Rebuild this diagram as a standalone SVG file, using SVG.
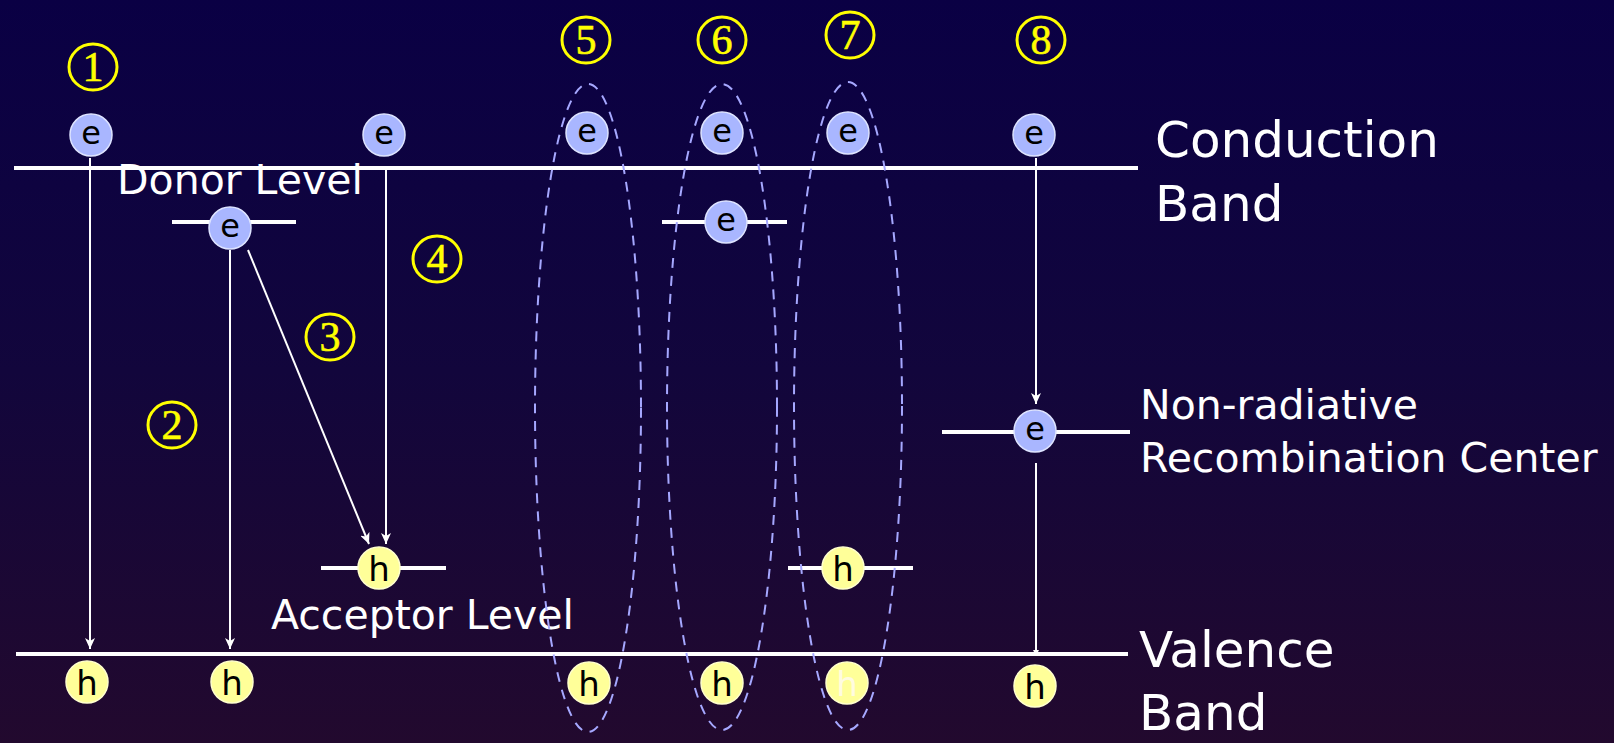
<svg xmlns="http://www.w3.org/2000/svg" width="1614" height="743" viewBox="0 0 1614 743">
  <defs>
    <linearGradient id="bg" x1="0" y1="0" x2="0" y2="1">
      <stop offset="0" stop-color="#0a0044"/>
      <stop offset="0.5" stop-color="#12063c"/>
      <stop offset="1" stop-color="#22092e"/>
    </linearGradient>
    <marker id="arrow" markerUnits="userSpaceOnUse" markerWidth="12" markerHeight="10" refX="11" refY="5" orient="auto">
      <path d="M0,0 L11,5 L0,10 L3,5 z" fill="#ffffff"/>
    </marker>
    <marker id="dot" markerUnits="userSpaceOnUse" markerWidth="8" markerHeight="8" refX="6" refY="4" orient="auto">
      <path d="M0,1 L6,4 L0,7 z" fill="#ffffff"/>
    </marker>
  </defs>
  <style>
    .band { stroke: #ffffff; stroke-width: 4; fill: none; }
    .level { stroke: #ffffff; stroke-width: 4; fill: none; }
    .conn { stroke: #ffffff; stroke-width: 2; fill: none; }
    .pair { stroke: #a6a8ff; stroke-width: 2; fill: none; stroke-dasharray: 10 8; }
    .elec circle { fill: #a9b6ff; stroke: #dde3ff; stroke-width: 1.5; }
    .elec text { font-family: "DejaVu Sans", sans-serif; font-size: 32px; fill: #000000; text-anchor: middle; }
    .hole circle { fill: #ffff99; stroke: #ffffcc; stroke-width: 1.5; }
    .hole text { font-family: "DejaVu Sans", sans-serif; font-size: 34px; fill: #000000; text-anchor: middle; }
    .num ellipse { fill: none; stroke: #ffff00; stroke-width: 3; }
    .num text { font-family: "Liberation Serif", serif; font-size: 42px; fill: #ffff00; stroke: #ffff00; stroke-width: 0.6; text-anchor: middle; }
    .label { font-family: "DejaVu Sans", sans-serif; fill: #ffffff; }
    .big { font-size: 50px; }
    .mid { font-size: 41px; }
  </style>

  <rect x="0" y="0" width="1614" height="743" fill="url(#bg)"/>

  <!-- energy bands and localized levels -->
  <g id="bands">
    <line class="band" x1="14" y1="168" x2="1138" y2="168"/>
    <line class="band" x1="16" y1="654" x2="1128" y2="654"/>
  </g>
  <g id="levels">
    <line class="level" x1="172" y1="222" x2="296" y2="222"/>
    <line class="level" x1="662" y1="222" x2="787" y2="222"/>
    <line class="level" x1="321" y1="568" x2="446" y2="568"/>
    <line class="level" x1="788" y1="568" x2="913" y2="568"/>
    <line class="level" x1="942" y1="432" x2="1130" y2="432"/>
  </g>

  <!-- band labels -->
  <g id="labels">
    <text class="label big" x="1155" y="157">Conduction</text>
    <text class="label big" x="1155" y="221">Band</text>
    <text class="label big" x="1139" y="667">Valence</text>
    <text class="label big" x="1139" y="730">Band</text>
    <text class="label mid" x="117" y="194">Donor Level</text>
    <text class="label mid" x="271" y="629">Acceptor Level</text>
    <text class="label mid" x="1140" y="419">Non-radiative</text>
    <text class="label mid" x="1140" y="472">Recombination Center</text>
  </g>

  <!-- recombination transitions -->
  <g id="connectors">
    <line class="conn" x1="90" y1="158" x2="90" y2="649" marker-end="url(#arrow)"/>
    <line class="conn" x1="230" y1="250" x2="230" y2="649" marker-end="url(#arrow)"/>
    <line class="conn" x1="248" y1="250" x2="369" y2="544" marker-end="url(#arrow)"/>
    <line class="conn" x1="386" y1="168" x2="386" y2="544" marker-end="url(#arrow)"/>
    <line class="conn" x1="1036" y1="158" x2="1036" y2="404" marker-end="url(#arrow)"/>
    <line class="conn" x1="1036" y1="463" x2="1036" y2="656" marker-end="url(#dot)"/>
  </g>

  <!-- electron-hole pairs (excitons) -->
  <g id="pairs">
    <ellipse id="pair5" class="pair" cx="588" cy="408" rx="53" ry="324"/>
    <ellipse id="pair6" class="pair" cx="722" cy="407" rx="55" ry="323"/>
    <ellipse id="pair7" class="pair" cx="848" cy="406" rx="54" ry="324"/>
  </g>

  <!-- electrons -->
  <g id="e1" class="elec"><circle cx="91" cy="135" r="21"/><text x="91" y="144">e</text></g>
  <g id="e2" class="elec"><circle cx="230" cy="228" r="21"/><text x="230" y="237">e</text></g>
  <g id="e4" class="elec"><circle cx="384" cy="135" r="21"/><text x="384" y="144">e</text></g>
  <g id="e5" class="elec"><circle cx="587" cy="133" r="21"/><text x="587" y="142">e</text></g>
  <g id="e6" class="elec"><circle cx="722" cy="133" r="21"/><text x="722" y="142">e</text></g>
  <g id="e6d" class="elec"><circle cx="726" cy="222" r="21"/><text x="726" y="231">e</text></g>
  <g id="e7" class="elec"><circle cx="848" cy="133" r="21"/><text x="848" y="142">e</text></g>
  <g id="e8" class="elec"><circle cx="1034" cy="135" r="21"/><text x="1034" y="144">e</text></g>
  <g id="e8c" class="elec"><circle cx="1035" cy="431" r="21"/><text x="1035" y="440">e</text></g>

  <!-- holes -->
  <g id="h1" class="hole"><circle cx="87" cy="682" r="21"/><text x="87" y="695">h</text></g>
  <g id="h2" class="hole"><circle cx="232" cy="682" r="21"/><text x="232" y="695">h</text></g>
  <g id="h3" class="hole"><circle cx="379" cy="568" r="21"/><text x="379" y="581">h</text></g>
  <g id="h5" class="hole"><circle cx="589" cy="683" r="21"/><text x="589" y="696">h</text></g>
  <g id="h6" class="hole"><circle cx="722" cy="683" r="21"/><text x="722" y="696">h</text></g>
  <g id="h7a" class="hole"><circle cx="843" cy="568" r="21"/><text x="843" y="581">h</text></g>
  <g id="h7" class="hole"><circle cx="847" cy="683" r="21"/><text x="847" y="696" style="fill:#fffbe0">h</text></g>
  <g id="h8" class="hole"><circle cx="1035" cy="686" r="21"/><text x="1035" y="699">h</text></g>

  <!-- process numbers -->
  <g id="n1" class="num"><ellipse cx="93" cy="67" rx="24" ry="23"/><text x="93" y="81">1</text></g>
  <g id="n2" class="num"><ellipse cx="172" cy="425" rx="24" ry="23"/><text x="172" y="439">2</text></g>
  <g id="n3" class="num"><ellipse cx="330" cy="337" rx="24" ry="23"/><text x="330" y="351">3</text></g>
  <g id="n4" class="num"><ellipse cx="437" cy="259" rx="24" ry="23"/><text x="437" y="273">4</text></g>
  <g id="n5" class="num"><ellipse cx="586" cy="40" rx="24" ry="23"/><text x="586" y="54">5</text></g>
  <g id="n6" class="num"><ellipse cx="722" cy="40" rx="24" ry="23"/><text x="722" y="54">6</text></g>
  <g id="n7" class="num"><ellipse cx="850" cy="35" rx="24" ry="23"/><text x="850" y="49">7</text></g>
  <g id="n8" class="num"><ellipse cx="1041" cy="40" rx="24" ry="23"/><text x="1041" y="54">8</text></g>
</svg>
